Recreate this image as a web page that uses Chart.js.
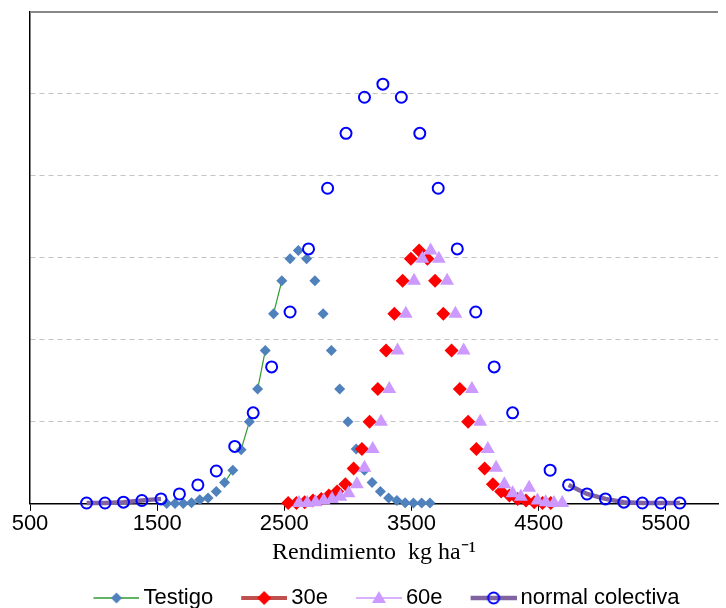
<!DOCTYPE html>
<html>
<head>
<meta charset="utf-8">
<script src="https://cdn.jsdelivr.net/npm/chart.js@4.4.0/dist/chart.umd.min.js"></script>
<style>
  body { margin: 0; background: #fff; }
  #wrap { width: 726px; height: 608px; }
</style>
</head>
<body>
<div id="wrap"><canvas id="myChart" width="726" height="608"></canvas></div>
<script>
// x tick labels (kg/ha)
const xTicks = [500, 1500, 2500, 3500, 4500, 5500];

// Testigo
const testigoX = [1575, 1640, 1705, 1770, 1835, 1900, 1965, 2030, 2095, 2160, 2225, 2290, 2350, 2415, 2480, 2545, 2610,
                  2675, 2740, 2805, 2870, 2935, 3000, 3065, 3130, 3190, 3255, 3320, 3385, 3450, 3515, 3580, 3645];
const testigoY = [0.005, 0.005, 0.005, 0.012, 0.05, 0.07, 0.15, 0.26, 0.41, 0.66, 1.00, 1.40, 1.87, 2.32, 2.72, 2.99, 3.09,
                  2.99, 2.72, 2.32, 1.87, 1.40, 1.00, 0.67, 0.41, 0.26, 0.15, 0.07, 0.04, 0.012, 0.01, 0.01, 0.01];

// 30e
const e30X = [2530, 2595, 2660, 2725, 2790, 2850, 2915, 2980, 3045, 3110, 3170, 3235, 3300, 3365, 3430, 3495, 3560,
              3625, 3685, 3750, 3815, 3880, 3945, 4010, 4075, 4140, 4205, 4270, 4335, 4400, 4465, 4530, 4595];
const e30Y = [0.01, 0.01, 0.02, 0.04, 0.06, 0.10, 0.15, 0.24, 0.43, 0.67, 1.00, 1.40, 1.87, 2.32, 2.72, 2.99, 3.09,
              2.99, 2.72, 2.32, 1.87, 1.40, 1.00, 0.67, 0.43, 0.24, 0.15, 0.10, 0.06, 0.04, 0.02, 0.01, 0.01];

// 60e
const e60X = [2615, 2680, 2745, 2810, 2875, 2940, 3005, 3070, 3130, 3195, 3260, 3325, 3390, 3455, 3520, 3585, 3650,
              3715, 3780, 3845, 3910, 3975, 4040, 4100, 4165, 4230, 4295, 4360, 4425, 4490, 4555, 4620, 4685];
const e60Y = [0.01, 0.01, 0.02, 0.04, 0.06, 0.085, 0.13, 0.24, 0.44, 0.67, 1.00, 1.40, 1.87, 2.32, 2.72, 2.99, 3.09,
              2.99, 2.72, 2.32, 1.87, 1.40, 1.00, 0.67, 0.44, 0.24, 0.13, 0.085, 0.195, 0.04, 0.02, 0.01, 0.01];

// normal colectiva
const normalX = [945, 1090, 1235, 1380, 1530, 1675, 1820, 1965, 2110, 2255, 2400, 2545, 2690, 2840, 2985, 3130, 3275,
                 3420, 3565, 3710, 3860, 4005, 4150, 4295, 4590, 4735, 4880, 5025, 5170, 5315, 5460, 5610];
const normalY = [0.01, 0.01, 0.02, 0.04, 0.06, 0.12, 0.23, 0.40, 0.70, 1.11, 1.67, 2.34, 3.11, 3.85, 4.52, 4.96, 5.12,
                 4.96, 4.52, 3.85, 3.11, 2.34, 1.67, 1.11, 0.41, 0.23, 0.12, 0.06, 0.02, 0.01, 0.01, 0.01];

const toPoints = (xs, ys) => xs.map((x, i) => ({ x: x, y: ys[i] }));

// only a few testigo segments show the green line in the original
const testigoLinks = [7, 9, 11, 13];

// little legend pictures: line + marker
function diamond(g, cx, cy, r, fill) {
    g.fillStyle = fill;
    g.beginPath();
    g.moveTo(cx, cy - r); g.lineTo(cx + r, cy); g.lineTo(cx, cy + r); g.lineTo(cx - r, cy);
    g.closePath(); g.fill();
}
function triangle(g, cx, cy, r, fill) {
    g.fillStyle = fill;
    g.beginPath();
    g.moveTo(cx, cy - r); g.lineTo(cx + r * 0.866, cy + r / 2); g.lineTo(cx - r * 0.866, cy + r / 2);
    g.closePath(); g.fill();
}
function ring(g, cx, cy, r, color) {
    g.strokeStyle = color; g.lineWidth = 2;
    g.beginPath(); g.arc(cx, cy, r, 0, Math.PI * 2); g.stroke();
}
function legendIcon(lineColor, lineWidth, marker) {
    const c = document.createElement('canvas');
    c.width = 61; c.height = 22;
    const g = c.getContext('2d');
    g.strokeStyle = lineColor; g.lineWidth = lineWidth;
    g.beginPath(); g.moveTo(15, 11); g.lineTo(61, 11); g.stroke();
    marker(g, 38, 11);
    return c;
}
const legendIcons = [
    legendIcon('#2E9B2E', 1.5, (g, x, y) => diamond(g, x, y, 5.5, '#4F81BD')),
    legendIcon('#C0504D', 4, (g, x, y) => diamond(g, x, y, 7, '#FF0000')),
    legendIcon('#CC99FF', 1.5, (g, x, y) => triangle(g, x, y + 1, 8, '#CC99FF')),
    legendIcon('#8064A2', 4.5, (g, x, y) => ring(g, x, y, 5.5, '#0000FF'))
];

const topBorder = {
    id: 'topBorder',
    beforeDatasetsDraw(chart) {
        const { ctx, chartArea: a } = chart;
        ctx.save();
        ctx.strokeStyle = '#888';
        ctx.lineWidth = 2;
        ctx.beginPath(); ctx.moveTo(a.left, a.top); ctx.lineTo(a.right, a.top); ctx.stroke();
        ctx.restore();
    }
};

const ctx = document.getElementById('myChart').getContext('2d');
const myChart = new Chart(ctx, {
    type: 'scatter',
    data: {
        datasets: [{
            label: 'Testigo',
            data: toPoints(testigoX, testigoY),
            showLine: true,
            borderColor: '#2E9B2E',
            borderWidth: 1.2,
            segment: { borderColor: c => testigoLinks.includes(c.p0DataIndex) ? undefined : 'rgba(0,0,0,0)' },
            pointStyle: 'rectRot',
            pointRadius: 5.5,
            pointBackgroundColor: '#4F81BD',
            pointBorderColor: '#4F81BD',
            pointBorderWidth: 0,
            clip: false,
            order: 4
        }, {
            label: '30e',
            data: toPoints(e30X, e30Y),
            showLine: false,
            borderColor: '#C0504D',
            pointStyle: 'rectRot',
            pointRadius: 7,
            pointBackgroundColor: '#FF0000',
            pointBorderColor: '#FF0000',
            pointBorderWidth: 0,
            clip: false,
            order: 3
        }, {
            label: '60e',
            data: toPoints(e60X, e60Y),
            showLine: false,
            borderColor: '#CC99FF',
            pointStyle: 'triangle',
            pointRadius: 8,
            pointBackgroundColor: '#CC99FF',
            pointBorderColor: '#CC99FF',
            pointBorderWidth: 0,
            clip: false,
            order: 2
        }, {
            label: 'normal colectiva',
            data: toPoints(normalX, normalY),
            showLine: true,
            borderColor: '#8064A2',
            borderWidth: 4.5,
            segment: { borderColor: c => (c.p0.parsed.x < 1500 || c.p0.parsed.x > 4700) ? undefined : 'rgba(0,0,0,0)' },
            pointStyle: 'circle',
            pointRadius: 5.5,
            pointBackgroundColor: 'rgba(0,0,0,0)',
            pointBorderColor: '#0000FF',
            pointBorderWidth: 2,
            clip: false,
            order: 1
        }]
    },
    options: {
        responsive: false,
        animation: false,
        layout: { padding: { left: 30, right: -9, top: 12, bottom: -11 } },
        scales: {
            x: {
                type: 'linear',
                min: 500,
                max: 5910,
                afterBuildTicks: s => { s.ticks = xTicks.map(v => ({ value: v })); },
                grid: { drawOnChartArea: false, drawTicks: true, tickLength: 7, color: '#000' },
                border: { color: '#000', width: 1.5 },
                ticks: {
                    color: '#000', padding: 0, maxRotation: 0,
                    font: { family: 'Liberation Sans', size: 22 },
                    callback: v => String(v)
                },
                title: {
                    display: true,
                    text: 'Rendimiento  kg ha\u207B\u00B9',
                    color: '#000',
                    font: { family: 'Liberation Serif', size: 24 },
                    padding: { top: 1, bottom: 0 }
                }
            },
            y: {
                min: 0,
                max: 6,
                ticks: { display: false, stepSize: 1 },
                grid: {
                    drawTicks: false,
                    color: c => (c.tick.value > 0 && c.tick.value < 6) ? '#C4C4C4' : 'rgba(0,0,0,0)'
                },
                border: { color: '#000', width: 1.5, dash: [5, 4] }
            }
        },
        plugins: {
            legend: {
                position: 'bottom',
                labels: {
                    usePointStyle: true,
                    pointStyleWidth: 47,
                    padding: 20,
                    color: '#000',
                    font: { family: 'Liberation Sans', size: 22 },
                    sort: (a, b) => a.datasetIndex - b.datasetIndex,
                    generateLabels(chart) {
                        const items = Chart.defaults.plugins.legend.labels.generateLabels(chart);
                        items.forEach(it => { it.pointStyle = legendIcons[it.datasetIndex]; });
                        return items;
                    }
                }
            },
            tooltip: { enabled: false }
        }
    },
    plugins: [topBorder]
});
</script>
</body>
</html>
